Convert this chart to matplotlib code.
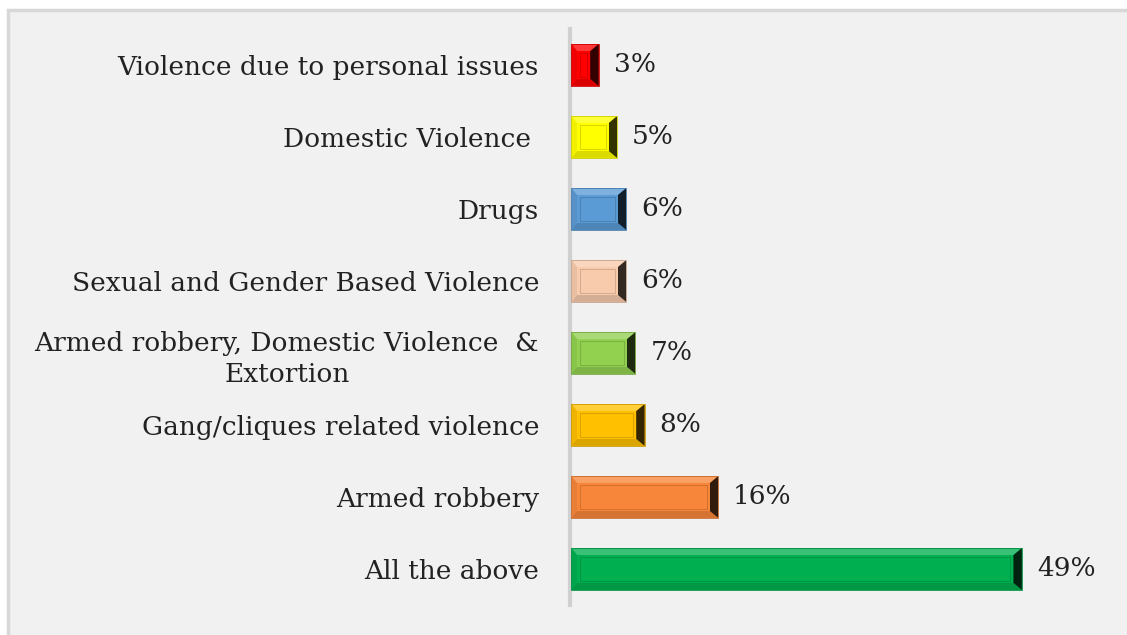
import numpy as np
import matplotlib
matplotlib.use('Agg')
from matplotlib import pyplot as plt
from matplotlib.patches import Polygon, Rectangle
from matplotlib.colors import to_rgb

# data, bottom to top
categories = ['All the above',
              'Armed robbery',
              'Gang/cliques related violence',
              'Armed robbery, Domestic Violence  &\nExtortion',
              'Sexual and Gender Based Violence',
              'Drugs',
              'Domestic Violence ',
              'Violence due to personal issues']
values = [49, 16, 8, 7, 6, 6, 5, 3]
value_labels = ['49%', '16%', '8%', '7%', '6%', '6%', '5%', '3%']
colors = ['#00b050', '#f7863a', '#ffc000', '#92d050',
          '#f8cbad', '#5b9bd5', '#ffff00', '#ff0000']

FONT = 'DejaVu Serif'
FS = 19


def mix(c, other, t):
    c = np.array(to_rgb(c))
    o = np.array(to_rgb(other))
    return tuple(c * (1 - t) + o * t)


W, H, DPI = 1127, 635, 100
fig = plt.figure(figsize=(W / DPI, H / DPI), dpi=DPI)
fig.patch.set_facecolor('white')
# chart area background with border
fig.patches.append(Rectangle((8 / W, -0.05), 1.1, 1 - 8 / H + 0.05 - 1.5 / H,
                             transform=fig.transFigure, facecolor='#f1f1f1',
                             edgecolor='#d8d8d8', linewidth=2.5, zorder=-5))

ax_left, ax_bottom_px, ax_top_px = 571, 605, 29
xmax = 55
ax_w_px = 9.2 * xmax
ax = fig.add_axes([ax_left / W, (H - ax_bottom_px) / H, ax_w_px / W,
                   (ax_bottom_px - ax_top_px) / H])
ax.set_facecolor('none')
ax.set_xlim(0, xmax)
ax.set_ylim(-0.5, len(values) - 0.5)
for s in ['top', 'right', 'bottom']:
    ax.spines[s].set_visible(False)
ax.spines['left'].set_position(('outward', 1))
ax.spines['left'].set_color('#d0d0d0')
ax.spines['left'].set_linewidth(3)

px_x = xmax / ax_w_px                          # data units per pixel (x)
px_y = len(values) / (ax_bottom_px - ax_top_px)  # data units per pixel (y)

bar_h = 0.58
bev = 7
ypos = np.arange(len(values))
for y, v, c in zip(ypos, values, colors):
    x0, x1 = 0.05, v
    y0, y1 = y - bar_h / 2, y + bar_h / 2
    bx, by = bev * px_x, bev * px_y
    ix0, ix1, iy0, iy1 = x0 + bx * 0.8, x1 - bx * 1.2, y0 + by, y1 - by
    ax.add_patch(Rectangle((x0, y0), x1 - x0, y1 - y0, facecolor=c,
                           edgecolor='none', zorder=2))
    # bevel faces
    top = [(x0, y1), (x1, y1), (ix1, iy1), (ix0, iy1)]
    bottom = [(x0, y0), (x1, y0), (ix1, iy0), (ix0, iy0)]
    left = [(x0, y0), (x0, y1), (ix0, iy1), (ix0, iy0)]
    right = [(x1, y0), (x1, y1), (ix1, iy1), (ix1, iy0)]
    ax.add_patch(Polygon(top, closed=True, facecolor=mix(c, 'white', 0.22),
                         edgecolor='none', zorder=3))
    ax.add_patch(Polygon(bottom, closed=True, facecolor=mix(c, 'black', 0.14),
                         edgecolor='none', zorder=3))
    ax.add_patch(Polygon(left, closed=True, facecolor=mix(c, 'black', 0.06),
                         edgecolor='none', zorder=3))
    ax.add_patch(Polygon(right, closed=True, facecolor=mix(c, 'black', 0.8),
                         edgecolor='none', zorder=3))
    ax.add_patch(Rectangle((ix0, iy0), ix1 - ix0, iy1 - iy0, facecolor=c,
                           edgecolor='none', zorder=4))
    # thin inner line
    jx0, jx1 = ix0 + 3 * px_x, ix1 - 3 * px_x
    jy0, jy1 = iy0 + 2 * px_y, iy1 - 2 * px_y
    if jx1 > jx0:
        ax.add_patch(Rectangle((jx0, jy0), jx1 - jx0, jy1 - jy0,
                               facecolor='none',
                               edgecolor=mix(c, 'black', 0.22),
                               linewidth=0.5, zorder=5))
    ax.add_patch(Rectangle((x0, y0), x1 - x0, y1 - y0, facecolor='none',
                           edgecolor=mix(c, 'black', 0.2), linewidth=0.6,
                           zorder=6))

for y, v, lab in zip(ypos, values, value_labels):
    ax.text(v + 15 * px_x, y, lab, va='center', ha='left',
            fontsize=FS, family=FONT, color='#222222')

ax.set_xticks([])
ax.set_yticks(ypos)
ax.set_yticklabels(categories, fontsize=FS, family=FONT,
                   color='#222222', multialignment='center', linespacing=1.3)
ax.tick_params(axis='y', length=0, pad=22)

fig.savefig('out.png', dpi=DPI, facecolor=fig.get_facecolor())
